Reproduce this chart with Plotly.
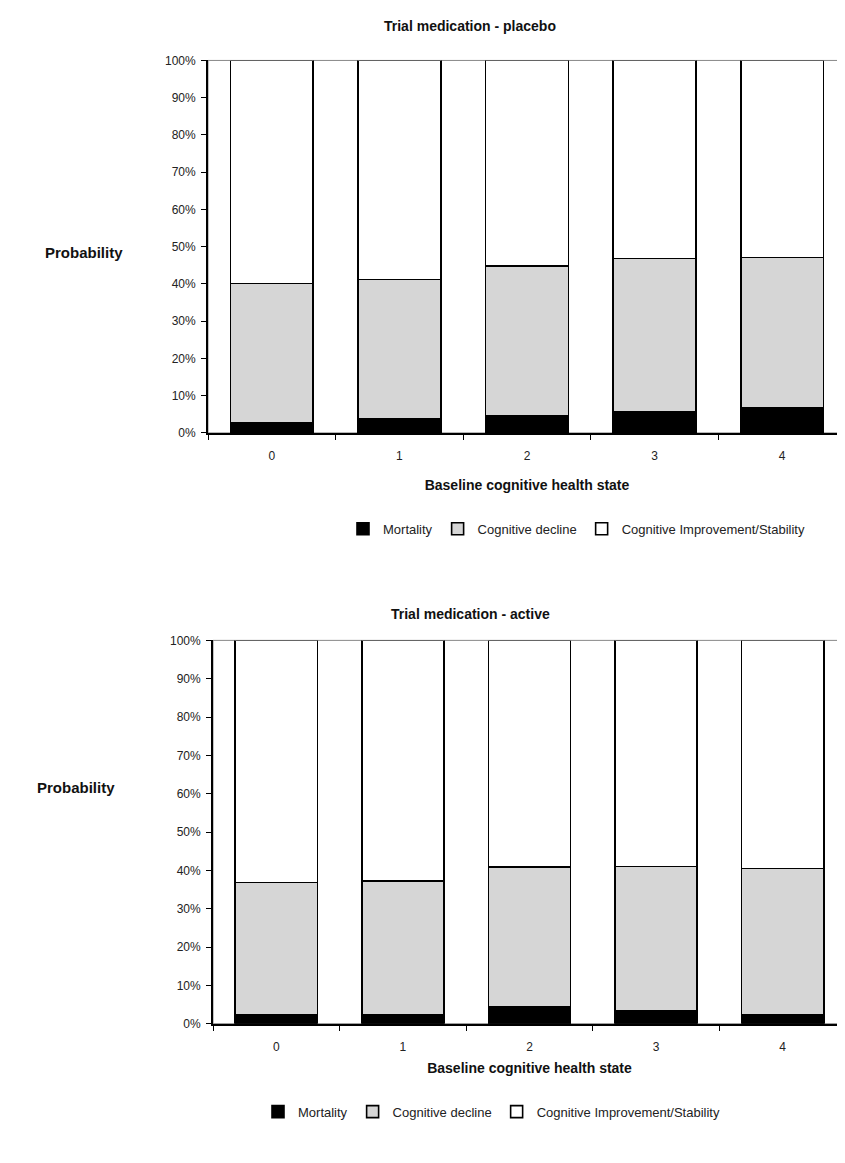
import plotly.graph_objects as go

categories = ["0", "1", "2", "3", "4"]
series_names = ["Mortality", "Cognitive decline", "Cognitive Improvement/Stability"]

placebo_mortality = [2.6, 3.8, 4.5, 5.7, 6.7]
placebo_decline = [37.5, 37.4, 40.3, 41.1, 40.4]
placebo_improve = [59.9, 58.8, 55.2, 53.2, 52.9]

active_mortality = [2.2, 2.2, 4.5, 3.4, 2.2]
active_decline = [34.6, 35.1, 36.4, 37.6, 38.3]
active_improve = [63.2, 62.7, 59.1, 59.0, 59.5]

y_tick_values = [0, 10, 20, 30, 40, 50, 60, 70, 80, 90, 100]
y_tick_labels = ["0%", "10%", "20%", "30%", "40%", "50%", "60%", "70%", "80%", "90%", "100%"]

W, H = 845, 1163
FONT = "Liberation Sans"
colors = ["#000000", "#d6d6d6", "#ffffff"]


def py(y):
    return 1 - y / H


fig = go.Figure()

panels = [
    (("x", "y", "legend"), [placebo_mortality, placebo_decline, placebo_improve]),
    (("x2", "y2", "legend2"), [active_mortality, active_decline, active_improve]),
]
for (xa, ya, lg), data in panels:
    for name, vals, col in zip(series_names, data, colors):
        fig.add_trace(go.Bar(
            x=categories, y=vals, name=name, xaxis=xa, yaxis=ya, legend=lg,
            width=0.65,
            marker=dict(color=col, line=dict(color="black", width=1.6)),
        ))

axis_font = dict(family=FONT, size=12, color="#222222")
title_font = dict(family=FONT, size=14, color="#111111")

xcommon = dict(
    type="category", tickson="boundaries", ticks="outside", ticklen=5,
    tickcolor="black", showline=True, linecolor="black", linewidth=1.8,
    showgrid=False, zeroline=False, tickfont=axis_font,
    ticklabelstandoff=11,
)
ycommon = dict(
    range=[0, 100], tickmode="array", tickvals=y_tick_values, ticktext=y_tick_labels,
    ticks="outside", ticklen=5, tickcolor="black", showline=True, linecolor="black",
    linewidth=1.8, showgrid=False, zeroline=False, tickfont=axis_font,
    ticklabelstandoff=3,
)

legend_font = dict(family=FONT, size=13, color="#222222")

fig.update_layout(
    width=W, height=H, barmode="stack",
    margin=dict(l=0, r=0, t=0, b=0),
    paper_bgcolor="white", plot_bgcolor="white",
    font=dict(family=FONT, color="#111111"),
    xaxis=dict(domain=[200 / W, 838 / W], anchor="y",
               title=dict(text="<b>Baseline cognitive health state</b>", font=title_font, standoff=18),
               **xcommon),
    yaxis=dict(domain=[py(423), py(46)], anchor="x", **ycommon),
    xaxis2=dict(domain=[205 / W, 838 / W], anchor="y2",
                title=dict(text="<b>Baseline cognitive health state</b>", font=title_font, standoff=10),
                **xcommon),
    yaxis2=dict(domain=[py(1021), py(633)], anchor="x2", **ycommon),
    legend=dict(orientation="h", x=335 / W, y=py(520), xanchor="left", yanchor="middle",
                traceorder="normal", font=legend_font,
                itemwidth=30, bgcolor="rgba(0,0,0,0)"),
    legend2=dict(orientation="h", x=250 / W, y=py(1110), xanchor="left", yanchor="middle",
                 traceorder="normal", font=legend_font,
                 itemwidth=30, bgcolor="rgba(0,0,0,0)"),
    annotations=[
        dict(text="<b>Trial medication - placebo</b>", x=462 / W, y=py(11), xref="paper", yref="paper",
             xanchor="center", yanchor="middle", showarrow=False, font=title_font),
        dict(text="<b>Trial medication - active</b>", x=462 / W, y=py(606), xref="paper", yref="paper",
             xanchor="center", yanchor="middle", showarrow=False, font=title_font),
        dict(text="<b>Probability</b>", x=76 / W, y=py(240), xref="paper", yref="paper",
             xanchor="center", yanchor="middle", showarrow=False,
             font=dict(family=FONT, size=15, color="#111111")),
        dict(text="<b>Probability</b>", x=68 / W, y=py(782), xref="paper", yref="paper",
             xanchor="center", yanchor="middle", showarrow=False,
             font=dict(family=FONT, size=15, color="#111111")),
    ],
    shapes=[
        dict(type="rect", xref="x domain", yref="y domain", x0=0, x1=1, y0=0, y1=1,
             line=dict(color="#888888", width=1), layer="below"),
        dict(type="rect", xref="x2 domain", yref="y2 domain", x0=0, x1=1, y0=0, y1=1,
             line=dict(color="#888888", width=1), layer="below"),
    ],
)

fig.write_html("out.html")
